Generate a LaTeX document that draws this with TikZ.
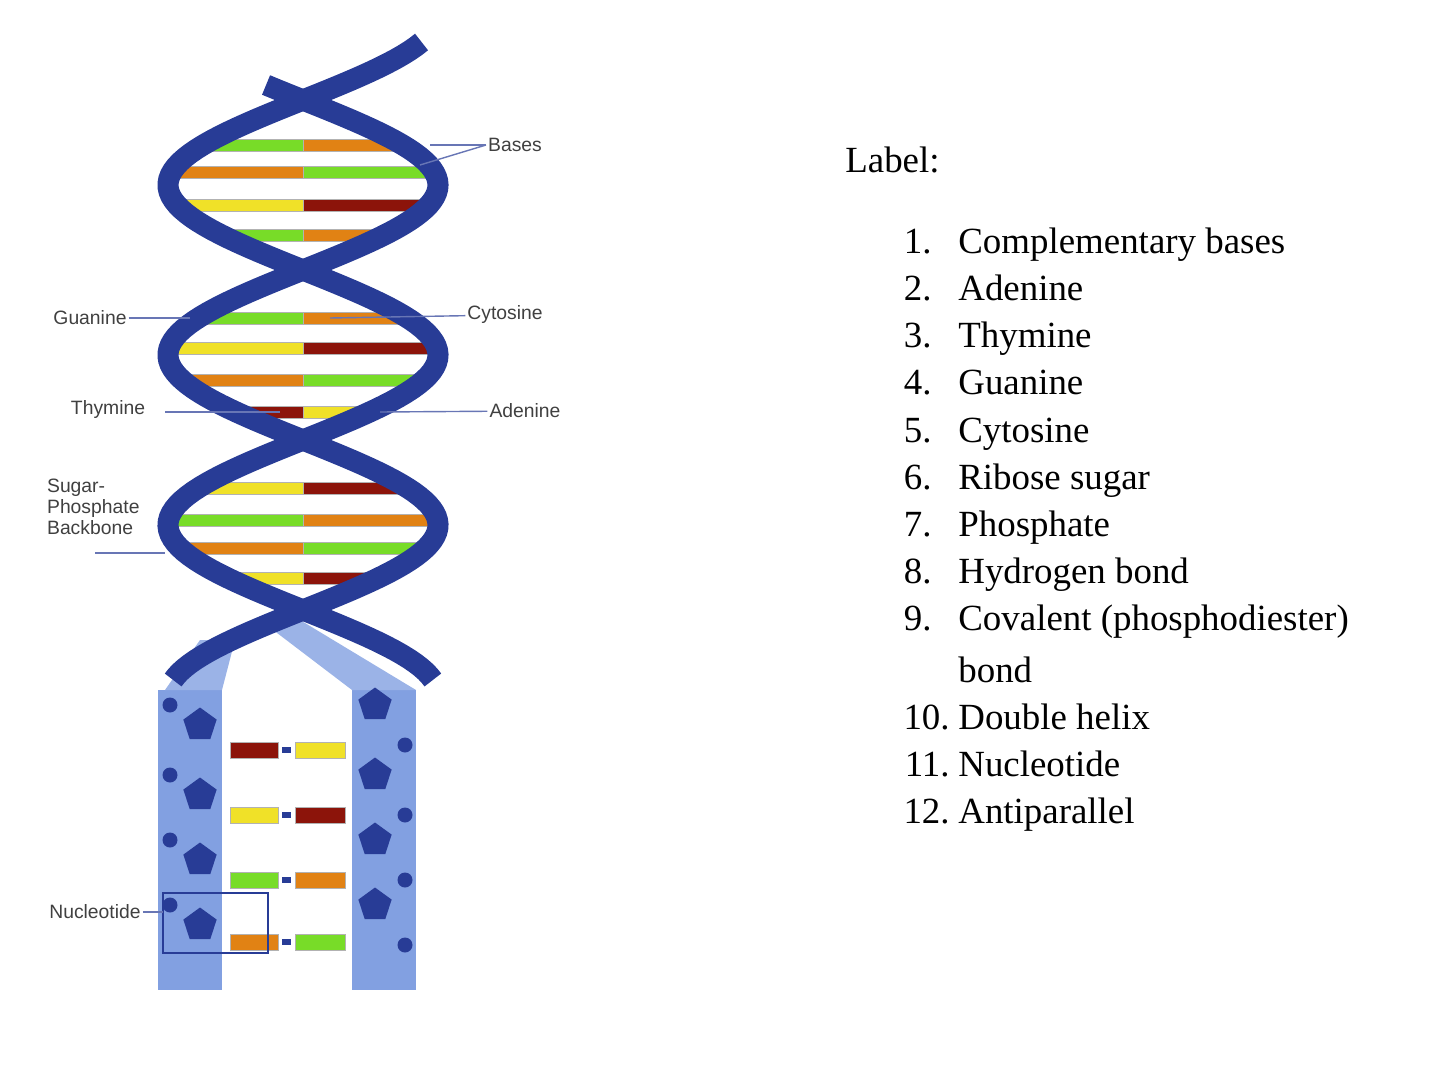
\documentclass[tikz,border=0pt]{standalone}
\usepackage{fontspec}
\setmainfont{Liberation Serif}
\setsansfont{Liberation Sans}
\usetikzlibrary{shapes.geometric}
\definecolor{helixblue}{RGB}{40,60,150}
\definecolor{colblue}{RGB}{130,160,225}
\definecolor{bgreen}{RGB}{120,220,40}
\definecolor{borange}{RGB}{225,130,20}
\definecolor{byellow}{RGB}{240,225,40}
\definecolor{bred}{RGB}{140,20,10}
\tikzset{
  strand/.style={helixblue,line width=12pt},
  lbl/.style={font=\sffamily\fontsize{11}{12}\selectfont,text=black!75,inner sep=1pt},
  lead/.style={draw=helixblue!70,line width=0.8pt},
  item/.style={font=\fontsize{21}{24}\selectfont,anchor=base west,inner sep=0pt},
  num/.style={font=\fontsize{21}{24}\selectfont,anchor=base east,inner sep=0pt},
  pent/.style={regular polygon,regular polygon sides=5,fill=helixblue,minimum size=0.7cm,inner sep=0pt},
  dot/.style={circle,fill=helixblue,minimum size=0.3cm,inner sep=0pt}
}
\begin{document}
\begin{tikzpicture}[x=0.02cm,y=-0.02cm]
\useasboundingbox (0,0) rectangle (1440,1071);
% helix base pairs
\foreach \yy/\cl/\cr in {145/bgreen/borange,172/borange/bgreen,205/byellow/bred,235/bgreen/borange,
  318/bgreen/borange,348/byellow/bred,380/borange/bgreen,412/bred/byellow,
  488/byellow/bred,520/bgreen/borange,548/borange/bgreen,578/byellow/bred}{
  \pgfmathsetmacro\xa{303-135*abs(sin((\yy-270)/170*180))+8}
  \pgfmathsetmacro\xb{303+135*abs(sin((\yy-270)/170*180))-8}
  \pgfmathsetmacro\xm{(\xa+\xb)/2}
  \fill[\cl,draw=black!30] (\xa,\yy-6) rectangle (\xm,\yy+6);
  \fill[\cr,draw=black!30] (\xm,\yy-6) rectangle (\xb,\yy+6);
}
% ladder columns
\fill[colblue] (158,690) -- (222,690) -- (222,990) -- (158,990) -- cycle;
\fill[colblue] (352,690) -- (416,690) -- (416,990) -- (352,990) -- cycle;
\fill[colblue!80] (165,690) -- (200,640) -- (235,640) -- (222,690) -- cycle;
\fill[colblue!80] (352,690) -- (260,620) -- (300,620) -- (416,690) -- cycle;
% strands
\draw[strand] plot[domain=42:680,samples=150,variable=\t] ({303+135*sin((\t-270)/170*180)},\t);
\draw[strand] plot[domain=85:680,samples=150,variable=\t] ({303-135*sin((\t-270)/170*180)},\t);
% ladder backbone
\foreach \yy [count=\i] in {705,775,840,905}{
  \node[pent] (pl\i) at (200,\yy+20) {};
  \node[pent] (pr\i) at (375,\yy) {};
  \node[dot] (dl\i) at (170,\yy) {};
  \node[dot] (dr\i) at (405,\yy+40) {};
}
\foreach \yy/\cl/\cr in {750/bred/byellow,815/byellow/bred,880/bgreen/borange,942/borange/bgreen}{
  \fill[\cl,draw=black!30] (230,\yy-8) rectangle (278,\yy+8);
  \fill[helixblue] (282,\yy-3) rectangle (291,\yy+3);
  \fill[\cr,draw=black!30] (295,\yy-8) rectangle (345,\yy+8);
}
\draw[helixblue,line width=1pt] (163,893) rectangle (268,953);
% labels
\node[lbl] (bases) at (515,145) {Bases};
\coordinate (b1) at (430,145); \coordinate (b2) at (420,165);
\draw[lead] (b1) -- (bases.west); \draw[lead] (b2) -- (bases.west);
\node[lbl] (guan) at (90,318) {Guanine};
\coordinate (g1) at (190,318); \draw[lead] (guan) -- (g1);
\node[lbl] (cyto) at (505,315) {Cytosine};
\coordinate (c1) at (330,318); \draw[lead] (c1) -- (cyto);
\node[lbl] (thym) at (108,410) {Thymine};
\coordinate (t1) at (280,412); \draw[lead] (165,412) -- (t1);
\node[lbl] (aden) at (525,411) {Adenine};
\coordinate (a1) at (380,412); \draw[lead] (a1) -- (aden);
\node[lbl,align=left,anchor=north west] (spb) at (45,477) {Sugar-\\Phosphate\\Backbone};
\coordinate (s1) at (165,553); \draw[lead] (95,553) -- (s1);
\node[lbl] (nucl) at (95,912) {Nucleotide};
\coordinate (nb) at (163,912); \draw[lead] (nucl) -- (nb);
% list
\node[item] (head) at (845,173) {Label:};
\foreach \txt [count=\i] in {{Complementary bases},{Adenine},{Thymine},{Guanine},{Cytosine},{Ribose sugar},{Phosphate},{Hydrogen bond},{Covalent (phosphodiester)}}{
  \node[num] (num\i) at (932,206+47.2*\i) {\i.};
  \node[item] (txt\i) at (958,206+47.2*\i) {\txt};
}
\node[item] (txt9b) at (958,682) {bond};
\foreach \txt [count=\j from 10] in {{Double helix},{Nucleotide},{Antiparallel}}{
  \node[num] (num\j) at (950,729+47*\j-470) {\j.};
  \node[item] (txt\j) at (958,729+47*\j-470) {\txt};
}
\end{tikzpicture}
\end{document}
